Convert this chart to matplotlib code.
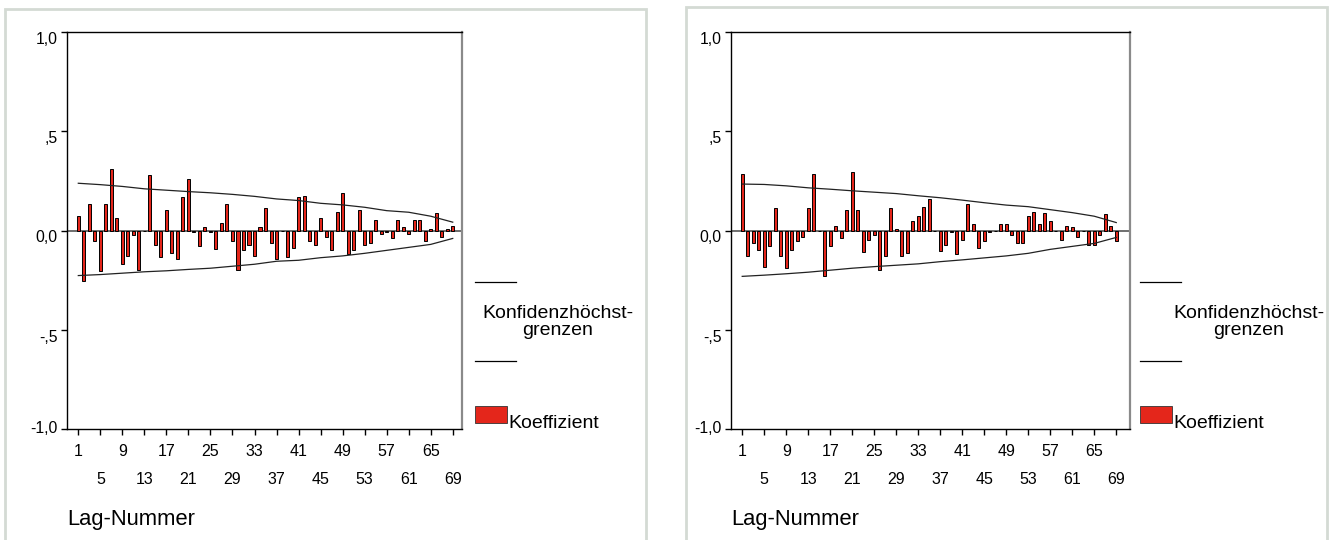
import numpy as np
import matplotlib.pyplot as plt
from matplotlib.lines import Line2D
from matplotlib.patches import Rectangle
from matplotlib.transforms import ScaledTranslation

plt.rcParams['font.family'] = ['Liberation Sans', 'DejaVu Sans']

# lag numbers and coefficients
lags = np.arange(1, 70)

coef_left = [0.072, -0.255, 0.134, -0.055, -0.206, 0.134, 0.31, 0.062, -0.168, -0.129,
             -0.025, -0.20, -0.003, 0.28, -0.072, -0.136, 0.104, -0.112, -0.142, 0.167,
             0.26, -0.008, -0.079, 0.017, -0.008, -0.095, 0.039, 0.134, -0.055, -0.20,
             -0.10, -0.072, -0.129, 0.017, 0.112, -0.062, -0.142, -0.005, -0.134, -0.089,
             0.167, 0.172, -0.055, -0.072, 0.062, -0.034, -0.10, 0.095, 0.19, -0.117,
             -0.10, 0.104, -0.072, -0.062, 0.055, -0.018, -0.008, -0.039, 0.055, 0.017,
             -0.017, 0.055, 0.055, -0.055, 0.008, 0.089, -0.034, 0.008, 0.022]

coef_right = [0.285, -0.127, -0.064, -0.097, -0.184, -0.08, 0.112, -0.127, -0.191, -0.097,
              -0.055, -0.034, 0.112, 0.285, -0.005, -0.231, -0.08, 0.023, -0.04, 0.104,
              0.293, 0.104, -0.106, -0.05, -0.023, -0.20, -0.127, 0.112, 0.008, -0.127,
              -0.114, 0.049, 0.074, 0.117, 0.157, -0.004, -0.104, -0.072, -0.01, -0.12,
              -0.05, 0.134, 0.032, -0.089, -0.055, -0.01, -0.004, 0.032, 0.032, -0.023,
              -0.064, -0.064, 0.074, 0.095, 0.034, 0.087, 0.047, -0.004, -0.05, 0.023,
              0.017, -0.034, -0.005, -0.072, -0.072, -0.022, 0.082, 0.023, -0.055]

# confidence limits, read every 4 lags
bound_lags = np.arange(1, 70, 4)
upper_left = [0.238, 0.231, 0.222, 0.21, 0.203, 0.196, 0.19, 0.182, 0.172, 0.159,
              0.151, 0.137, 0.129, 0.117, 0.10, 0.092, 0.072, 0.042]
lower_left = [-0.227, -0.222, -0.215, -0.208, -0.203, -0.196, -0.19, -0.18, -0.17, -0.155,
              -0.15, -0.137, -0.128, -0.115, -0.10, -0.085, -0.07, -0.04]
upper_right = [0.234, 0.232, 0.225, 0.215, 0.208, 0.20, 0.193, 0.186, 0.175, 0.165,
               0.153, 0.14, 0.128, 0.12, 0.105, 0.09, 0.072, 0.04]
lower_right = [-0.231, -0.225, -0.218, -0.21, -0.20, -0.19, -0.182, -0.175, -0.168, -0.157,
               -0.148, -0.138, -0.128, -0.115, -0.095, -0.08, -0.065, -0.035]

tick_lags = np.arange(1, 70, 4)
tick_labels = [str(t) for t in tick_lags]
y_ticks = [1.0, 0.5, 0.0, -0.5, -1.0]
y_labels = ['1,0', ',5', '0,0', '-,5', '-1,0']

RED = '#e4261b'
W, H = 1336, 540

fig = plt.figure(figsize=(W / 100, H / 100), dpi=100)


def fx(x):
    return x / W


def fy(y):
    return 1 - y / H


def panel(ax_px, xlim, coef, upper, lower, frame_px, leg_x, text_x):
    x0, x1, y0, y1 = ax_px
    ax = fig.add_axes([fx(x0), fy(y1), fx(x1 - x0), (y1 - y0) / H])
    ax.bar(lags, coef, width=0.55, color=RED, edgecolor='black', linewidth=0.7, zorder=3)
    ax.axhline(0, color='#6e6e6e', lw=1.4, zorder=2)
    ax.plot(bound_lags, upper, color='#222222', lw=0.9, zorder=4)
    ax.plot(bound_lags, lower, color='#222222', lw=0.9, zorder=4)
    ax.set_xlim(xlim)
    ax.set_ylim(-1, 1)
    for s in ['left', 'top', 'bottom']:
        ax.spines[s].set_linewidth(1.0)
    ax.spines['right'].set_color('#8a8a8a')
    ax.spines['right'].set_linewidth(1.6)

    ax.set_yticks(y_ticks, y_labels)
    ax.tick_params(axis='y', length=4, width=1, pad=3, labelsize=11.3)
    for lab, v in zip(ax.get_yticklabels(), y_ticks):
        dy = -6 if v > -1 else 2
        lab.set_transform(lab.get_transform() + ScaledTranslation(0, dy / 100, fig.dpi_scale_trans))

    ax.set_xticks(tick_lags, tick_labels)
    ax.tick_params(axis='x', length=4, width=1, pad=6.5, labelsize=11.5)
    for i, lab in enumerate(ax.get_xticklabels()):
        if i % 2:
            lab.set_transform(lab.get_transform() + ScaledTranslation(0, -0.28, fig.dpi_scale_trans))

    fig.text(fx(x0), fy(520), 'Lag-Nummer', fontsize=15.8, va='center', ha='left')

    # legend
    fig.add_artist(Line2D([fx(leg_x), fx(leg_x + 41)], [fy(282), fy(282)],
                          color='black', lw=0.9))
    fig.add_artist(Line2D([fx(leg_x), fx(leg_x + 41)], [fy(361), fy(361)],
                          color='black', lw=0.9))
    fig.text(fx(text_x), fy(322), 'Konfidenzhöchst-\ngrenzen', fontsize=14,
             ha='center', va='center', multialignment='center', linespacing=0.95)
    fig.add_artist(Rectangle((fx(leg_x), fy(423)), fx(32), 17 / H, transform=fig.transFigure,
                             facecolor=RED, edgecolor='#333333', lw=0.6))
    fig.text(fx(leg_x + 33), fy(424), 'Koeffizient', fontsize=14, ha='left', va='center')

    # light frame round the panel
    fa, fb, fc = frame_px
    fig.add_artist(Rectangle((fx(fa), -0.02), fx(fb - fa), fy(fc) + 0.02,
                             transform=fig.transFigure, fill=False,
                             edgecolor='#d4dad4', lw=2))
    return ax


panel((67.3, 461.7, 32, 429), (-1.0, 70.63), coef_left, upper_left, lower_left,
      (5, 646, 9), 475, 558)
panel((731, 1129.5, 32, 429), (-1.04, 71.41), coef_right, upper_right, lower_right,
      (686, 1327, 7), 1140, 1249)

fig.savefig('out.png', dpi=100)
